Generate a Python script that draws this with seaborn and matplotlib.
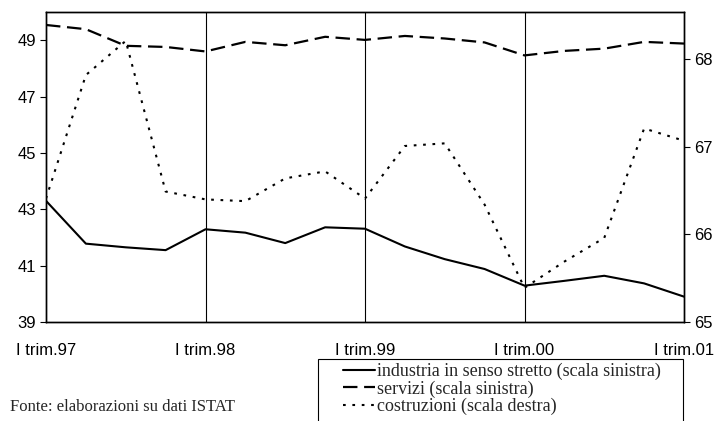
import pandas as pd
import matplotlib
matplotlib.use('Agg')
import matplotlib.pyplot as plt
from matplotlib.patches import Rectangle
import seaborn as sns

# trimestri da I trim.97 a I trim.01
trimestri = list(range(17))
etichette = ['I trim.97', 'I trim.98', 'I trim.99', 'I trim.00', 'I trim.01']

industria = [43.3, 41.78, 41.65, 41.55, 42.29, 42.17, 41.8, 42.36, 42.31,
             41.68, 41.23, 40.88, 40.29, 40.46, 40.64, 40.37, 39.9]
servizi = [49.54, 49.39, 48.8, 48.76, 48.6, 48.94, 48.82, 49.12, 49.01,
           49.15, 49.06, 48.92, 48.46, 48.62, 48.7, 48.94, 48.88]
costruzioni = [66.41, 67.82, 68.21, 66.49, 66.4, 66.38, 66.64, 66.72, 66.41,
               67.01, 67.04, 66.34, 65.39, 65.69, 65.96, 67.21, 67.07]

df = pd.DataFrame({'trim': trimestri, 'industria': industria,
                   'servizi': servizi, 'costruzioni': costruzioni})

sns.set_style('white')
plt.rcParams['font.family'] = ['Liberation Sans', 'DejaVu Sans']

fig = plt.figure(figsize=(7.15, 4.21), dpi=100)
ax = fig.add_axes([46 / 715, 1 - 322 / 421, 638 / 715, 310 / 421])
ax2 = ax.twinx()

sns.lineplot(data=df, x='trim', y='industria', ax=ax, color='black',
             linewidth=1.5, label='industria in senso stretto (scala sinistra)')
sns.lineplot(data=df, x='trim', y='servizi', ax=ax, color='black',
             linewidth=1.6, label='servizi (scala sinistra)')
ax.lines[-1].set_dashes([6.5, 3])
sns.lineplot(data=df, x='trim', y='costruzioni', ax=ax2, color='black',
             linewidth=1.5, label='costruzioni (scala destra)')
ax2.lines[-1].set_dashes([1.3, 3.2])

# linee verticali di separazione degli anni
for xv in [4, 8, 12]:
    ax.axvline(xv, color='black', linewidth=0.8)

ax.set_xlim(0, 16)
ax.set_ylim(39, 50)
ax2.set_ylim(65, 68.54)
ax.set_yticks([39, 41, 43, 45, 47, 49])
ax2.set_yticks([65, 66, 67, 68])
ax.set_xticks([0, 4, 8, 12, 16])
ax.set_xticklabels(etichette)
ax.set_xticks(trimestri, minor=True)
ax.set_xlabel('')
ax.set_ylabel('')
ax2.set_ylabel('')

for a in (ax, ax2):
    for s in a.spines.values():
        s.set_color('black')
        s.set_linewidth(1.0)

ax.tick_params(axis='x', which='both', direction='in', length=4, width=0.8,
               labelsize=12, pad=15, colors='black')
ax.tick_params(axis='y', direction='out', length=4, width=0.8, labelsize=12,
               pad=3, left=True, colors='black')
ax2.tick_params(axis='y', direction='out', length=4, width=0.8, labelsize=12,
                pad=3, right=True, colors='black')

# legenda unica, con riquadro disegnato a parte
h1, l1 = ax.get_legend_handles_labels()
h2, l2 = ax2.get_legend_handles_labels()
ax.get_legend().remove()
ax2.get_legend().remove()
fig.legend(h1 + h2, l1 + l2, loc='upper left',
           bbox_to_anchor=(343 / 715, 1 - 363 / 421),
           prop={'family': ['Liberation Serif'], 'size': 13},
           frameon=False, borderpad=0, labelspacing=0.0,
           handlelength=1.75, handletextpad=0.15, borderaxespad=0)
fig.patches.append(Rectangle((318 / 715, -0.05), 365 / 715, 0.05 + (421 - 359) / 421,
                             transform=fig.transFigure, fill=False,
                             edgecolor='black', linewidth=0.8))

fig.text(10 / 715, 1 - 407 / 421, 'Fonte: elaborazioni su dati ISTAT',
         family=['Liberation Serif'], fontsize=12, va='center', ha='left')

fig.savefig('out.png', dpi=100)
